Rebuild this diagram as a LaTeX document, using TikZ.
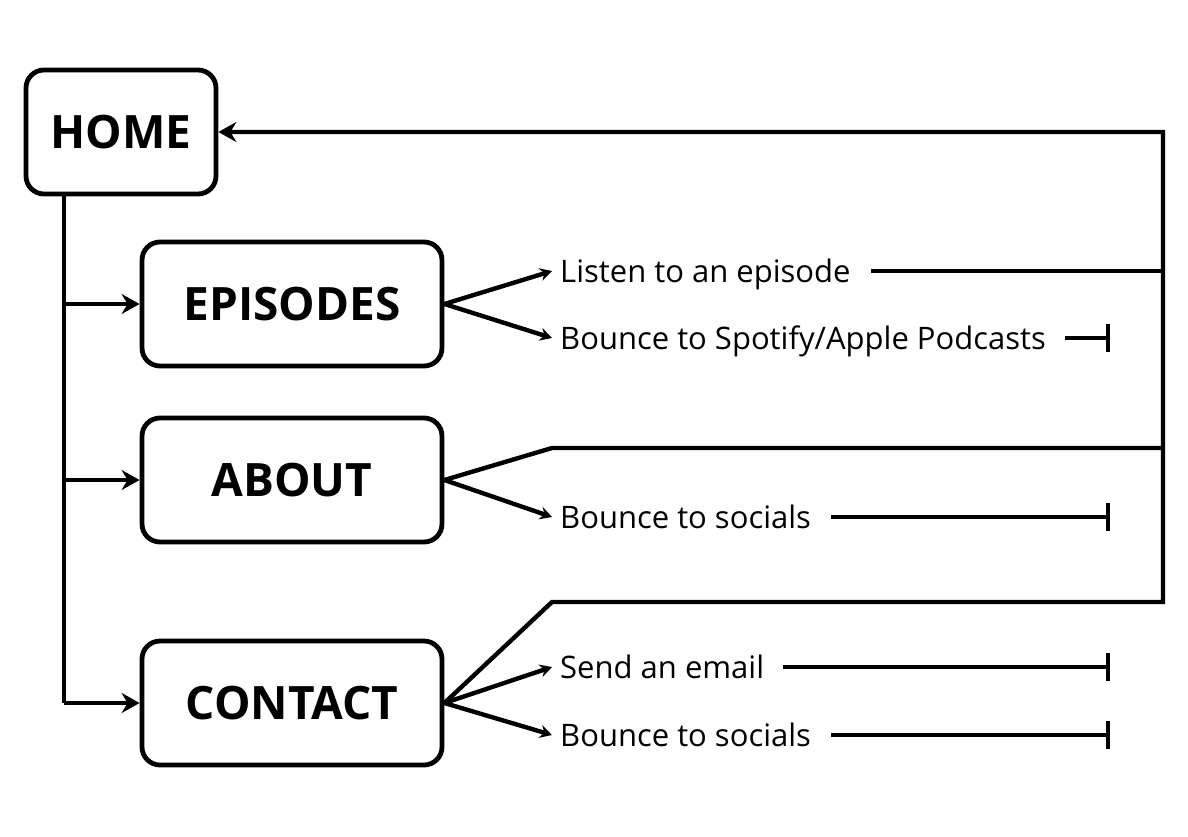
\documentclass[tikz,border=0pt]{standalone}
\usepackage{fontspec}
\setmainfont{Open Sans}
\usetikzlibrary{arrows.meta}
\begin{document}
\begin{tikzpicture}[x=1pt,y=-1pt,line width=4.4pt,
  box/.style={draw,line width=4.8pt,rounded corners=18pt,minimum width=300pt,minimum height=124pt,inner sep=0pt,font=\fontsize{46}{50}\selectfont\bfseries},
  lbl/.style={anchor=west,inner xsep=6pt,inner ysep=0pt,text height=22pt,text depth=0pt,font=\fontsize{31}{36}\selectfont},
  big/.style={-{Stealth[length=18pt,width=20pt,inset=6pt]}},
  small/.style={-{Stealth[length=12pt,width=13pt,inset=4pt]}},
  stop/.style={-{Bar[width=28pt]}}
]
\useasboundingbox (0,0) rectangle (1188,836);
% boxes
\node[box,minimum width=190pt] (home) at (121,132) {HOME};
\node[box] (episodes) at (292,304) {EPISODES};
\node[box] (about) at (292,480) {ABOUT};
\node[box] (contact) at (292,703) {CONTACT};
% labels
\node[lbl] (listen) at (552,271) {Listen to an episode};
\node[lbl] (spotify) at (552,338) {Bounce to Spotify/Apple Podcasts};
\node[lbl] (social1) at (552,517) {Bounce to socials};
\node[lbl] (email) at (552,667) {Send an email};
\node[lbl] (social2) at (552,735) {Bounce to socials};
% coordinates
\coordinate (tc) at (64,703);
\coordinate (rt) at (1163,132);
\coordinate (rb) at (1163,602);
\coordinate (ck) at (552,602);
\coordinate (ak) at (552,448);
\coordinate (bx) at (1110,0);
% trunk
\draw (home.south -| tc) -- (tc);
\draw[big] (tc) -- (contact.west);
\draw[big] (episodes.west -| tc) -- (episodes.west);
\draw[big] (about.west -| tc) -- (about.west);
% return path
\draw[big] (contact.east) -- (ck) -- (rb) -- (rt) -- (home.east);
\draw (about.east) -- (ak) -- (ak -| rt);
\draw ([xshift=12pt]listen.east) -- (listen.east -| rt);
% fans
\draw[small] (episodes.east) -- (listen.west);
\draw[small] (episodes.east) -- (spotify.west);
\draw[small] (about.east) -- (social1.west);
\draw[small] (contact.east) -- (email.west);
\draw[small] (contact.east) -- (social2.west);
% dead ends
\draw[stop] ([xshift=11pt]spotify.east) -- (spotify.east -| bx);
\draw[stop] ([xshift=12pt]social1.east) -- (social1.east -| bx);
\draw[stop] ([xshift=11pt]email.east) -- (email.east -| bx);
\draw[stop] ([xshift=12pt]social2.east) -- (social2.east -| bx);
\end{tikzpicture}
\end{document}
